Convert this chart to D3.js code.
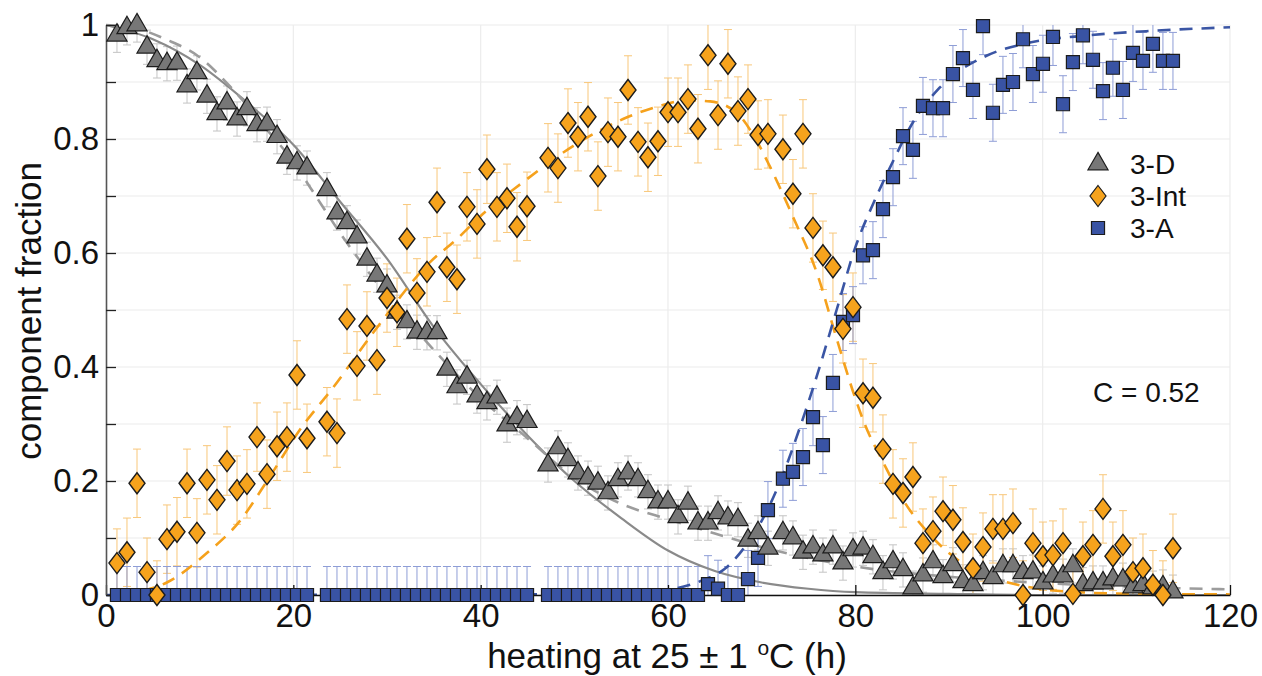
<!DOCTYPE html>
<html>
<head>
<meta charset="utf-8">
<script src="https://cdn.jsdelivr.net/npm/d3@7"></script>
<style>
  body { margin: 0; background: #fff; }
  text { font-family: "Liberation Sans", Arial, sans-serif; fill: #111; }
</style>
</head>
<body>
<div id="chart"></div>
<script>
// sampling times (h), shared by the three components
var hours = [1.17, 2.24, 3.31, 4.38, 5.44, 6.51, 7.58, 8.65, 9.71, 10.78, 11.85, 12.92, 13.99, 15.05, 16.12, 17.19, 18.26, 19.32, 20.39, 21.46,
  23.59, 24.66, 25.73, 26.80, 27.86, 28.93, 30.00, 31.07, 32.13, 33.20, 34.27, 35.34, 36.40, 37.47, 38.54, 39.61, 40.67, 41.74, 42.81, 43.88, 44.95,
  47.19, 48.25, 49.32, 50.39, 51.46, 52.52, 53.59, 54.66, 55.73, 56.80, 57.86, 58.93, 60.00, 61.07, 62.13, 63.20, 64.27, 65.34, 66.40, 67.47, 68.54, 69.61, 70.67,
  72.27, 73.34, 74.41, 75.48, 76.54, 77.61, 78.68, 79.75, 80.82, 81.88, 82.95, 84.02, 85.09, 86.15, 87.22, 88.29, 89.36, 90.42, 91.49, 92.56, 93.63, 94.69,
  95.76, 96.83, 97.90, 98.96, 100.03, 101.10, 102.17, 103.23, 104.30, 105.37, 106.44, 107.50, 108.57, 109.64, 110.71, 111.77, 112.84, 113.91];

var fracD = [0.982, 0.995, 1.0, 0.961, 0.937, 0.932, 0.933, 0.893, 0.916, 0.875, 0.844, 0.863, 0.835, 0.853, 0.825, 0.826, 0.804, 0.768, 0.758, 0.749,
  0.711, 0.670, 0.653, 0.628, 0.589, 0.561, 0.542, 0.496, 0.479, 0.461, 0.460, 0.460, 0.396, 0.365, 0.382, 0.349, 0.337, 0.347, 0.298, 0.311, 0.304,
  0.228, 0.258, 0.237, 0.214, 0.205, 0.196, 0.179, 0.202, 0.214, 0.202, 0.181, 0.163, 0.163, 0.137, 0.161, 0.126, 0.126, 0.144, 0.135, 0.132, 0.096, 0.109, 0.082,
  0.109, 0.100, 0.075, 0.084, 0.070, 0.084, 0.056, 0.079, 0.082, 0.067, 0.039, 0.058, 0.044, 0.012, 0.035, 0.058, 0.032, 0.053, 0.023, 0.018, 0.039, 0.030,
  0.051, 0.051, 0.039, 0.040, 0.021, 0.033, 0.033, 0.051, 0.018, 0.021, 0.021, 0.028, 0.026, 0.014, 0.018, 0.012, 0.014, 0.005];

var fracInt = [0.056, 0.075, 0.196, 0.040, 0.0, 0.098, 0.111, 0.196, 0.109, 0.202, 0.167, 0.235, 0.184, 0.195, 0.277, 0.212, 0.261, 0.277, 0.386, 0.275,
  0.304, 0.284, 0.484, 0.402, 0.472, 0.412, 0.521, 0.496, 0.625, 0.530, 0.567, 0.689, 0.575, 0.554, 0.681, 0.651, 0.747, 0.681, 0.696, 0.646, 0.682,
  0.767, 0.749, 0.828, 0.804, 0.839, 0.735, 0.812, 0.804, 0.886, 0.795, 0.768, 0.796, 0.847, 0.847, 0.870, 0.818, 0.947, 0.842, 0.932, 0.849, 0.870, 0.807, 0.809,
  0.782, 0.704, 0.809, 0.644, 0.596, 0.575, 0.467, 0.505, 0.354, 0.346, 0.256, 0.195, 0.179, 0.207, 0.091, 0.112, 0.147, 0.132, 0.093, 0.047, 0.084, 0.116,
  0.116, 0.126, 0.0, 0.091, 0.068, 0.070, 0.091, 0.002, 0.068, 0.088, 0.151, 0.068, 0.088, 0.040, 0.047, 0.018, 0.0, 0.082];

var fracA = [0, 0, 0, 0, 0, 0, 0, 0, 0, 0, 0, 0, 0, 0, 0, 0, 0, 0, 0, 0,
  0, 0, 0, 0, 0, 0, 0, 0, 0, 0, 0, 0, 0, 0, 0, 0, 0, 0, 0, 0, 0,
  0, 0, 0, 0, 0, 0, 0, 0, 0, 0, 0, 0, 0, 0, 0, 0, 0.019, 0.011, 0, 0, 0.028, 0.065, 0.149,
  0.204, 0.216, 0.242, 0.312, 0.263, 0.372, 0.479, 0.491, 0.596, 0.605, 0.677, 0.733, 0.805, 0.781, 0.858, 0.854, 0.854, 0.914, 0.942, 0.886, 0.998, 0.846,
  0.895, 0.900, 0.975, 0.914, 0.932, 0.979, 0.861, 0.935, 0.982, 0.939, 0.884, 0.925, 0.886, 0.951, 0.937, 0.967, 0.937, 0.937];

// error bar half widths
var errD = 0.03, errInt = 0.06, errA = 0.05;

// model curves [h, fraction]
var fitDSolid = [[0, 1], [5, 0.975], [10, 0.93], [15, 0.865], [20, 0.79], [25, 0.69], [30, 0.59], [35, 0.47], [40, 0.37], [45, 0.28], [50, 0.2],
  [55, 0.135], [60, 0.078], [65, 0.042], [70, 0.022], [75, 0.011], [80, 0.005], [90, 0.002], [100, 0], [120, 0]];
var fitDDash = [[0, 1], [3, 0.995], [6.5, 0.974], [9.7, 0.947], [13.6, 0.886], [17.2, 0.816], [20, 0.76], [22, 0.71], [25, 0.635], [30, 0.525],
  [35, 0.43], [40, 0.345], [45, 0.275], [50, 0.205], [55, 0.16], [60, 0.133], [65, 0.108], [70, 0.084], [75, 0.065], [80, 0.05], [90, 0.032],
  [100, 0.021], [110, 0.014], [120, 0.01]];
var fitInt = [[1.5, 0.002], [3, 0.005], [6.5, 0.022], [10.8, 0.074], [14.3, 0.13], [17.2, 0.2], [20.7, 0.29], [24.2, 0.363], [28.7, 0.464],
  [34.6, 0.584], [37.5, 0.625], [40, 0.665], [44.5, 0.724], [49.9, 0.788], [55.2, 0.835], [59.1, 0.858], [62, 0.868], [64.5, 0.866], [67.4, 0.845],
  [69, 0.81], [70.9, 0.751], [73.3, 0.665], [76, 0.56], [78, 0.45], [80, 0.345], [81, 0.3], [83, 0.232], [85.1, 0.167], [88.3, 0.1], [92.6, 0.044],
  [97.3, 0.018], [102.6, 0.006], [110, 0.002], [120, 0.001]];
var fitA = [[0, 0], [55, 0.002], [61, 0.012], [64, 0.028], [66, 0.045], [68, 0.08], [70, 0.13], [72, 0.2], [74, 0.29], [76, 0.39], [78, 0.5],
  [80, 0.61], [82, 0.69], [84, 0.76], [86, 0.825], [89, 0.89], [94, 0.946], [98, 0.967], [105, 0.982], [112, 0.99], [120, 0.996]];

var xTicks = [0, 20, 40, 60, 80, 100, 120];
var yTicks = [0, 0.1, 0.2, 0.3, 0.4, 0.5, 0.6, 0.7, 0.8, 0.9, 1];

var svgWidth = 1262, svgHeight = 676;
var margin = {top: 25, right: 32, bottom: 81, left: 106};
var width = svgWidth - margin.left - margin.right;
var height = svgHeight - margin.top - margin.bottom;

var svg = d3.select("#chart").append("svg")
  .attr("width", svgWidth)
  .attr("height", svgHeight)
  .style("background", "#fff");
var g = svg.append("g").attr("transform", `translate(${margin.left}, ${margin.top})`);

var x = d3.scaleLinear().domain([0, 120]).range([0, width]);
var y = d3.scaleLinear().domain([0, 1]).range([height, 0]);

// grid
g.append("g").selectAll("line").data(yTicks).enter().append("line")
  .attr("x1", 0).attr("x2", width)
  .attr("y1", d => y(d)).attr("y2", d => y(d))
  .attr("stroke", "#ececec").attr("stroke-width", 1.2);
g.append("g").selectAll("line").data(xTicks.slice(1)).enter().append("line")
  .attr("x1", d => x(d)).attr("x2", d => x(d))
  .attr("y1", 0).attr("y2", height)
  .attr("stroke", "#ececec").attr("stroke-width", 1.2);

var rows = hours.map((h, i) => ({h: h, d: fracD[i], int: fracInt[i], a: fracA[i]}));

function errorBars(key, err, color) {
  var eg = g.append("g").attr("stroke", color).attr("stroke-width", 1).attr("fill", "none");
  rows.forEach(function(r) {
    var v = r[key];
    var lo = Math.max(0, v - err), hi = Math.min(1, v + err);
    var cx = x(r.h);
    eg.append("line").attr("x1", cx).attr("x2", cx).attr("y1", y(lo)).attr("y2", y(hi));
    if (hi < 1) eg.append("line").attr("x1", cx - 4).attr("x2", cx + 4).attr("y1", y(hi)).attr("y2", y(hi));
    if (lo > 0) eg.append("line").attr("x1", cx - 4).attr("x2", cx + 4).attr("y1", y(lo)).attr("y2", y(lo));
  });
}
errorBars("d", errD, "#c4c4c4");
errorBars("int", errInt, "#f8c77a");
errorBars("a", errA, "#8e9dd6");

var line = d3.line().x(d => x(d[0])).y(d => y(d[1])).curve(d3.curveMonotoneX);

g.append("path").datum(fitDSolid).attr("d", line)
  .attr("fill", "none").attr("stroke", "#8a8a8a").attr("stroke-width", 2.2);
g.append("path").datum(fitDDash).attr("d", line)
  .attr("fill", "none").attr("stroke", "#9c9c9c").attr("stroke-width", 2.6).attr("stroke-dasharray", "13,9");
g.append("path").datum(fitInt).attr("d", line)
  .attr("fill", "none").attr("stroke", "#f5a11c").attr("stroke-width", 2.6).attr("stroke-dasharray", "13,9");
g.append("path").datum(fitA).attr("d", line)
  .attr("fill", "none").attr("stroke", "#3a55a4").attr("stroke-width", 2.6).attr("stroke-dasharray", "13,9");

// axes
var xAxis = d3.axisBottom(x).tickValues(xTicks).tickSizeInner(-10).tickSizeOuter(0).tickPadding(9).tickFormat(d3.format("d"));
var yAxis = d3.axisLeft(y).tickValues(yTicks).tickSizeInner(-10).tickSizeOuter(0).tickPadding(7)
  .tickFormat(d => (Math.round(d * 10) % 2 === 0) ? String(+d.toFixed(1)) : "");

var gx = g.append("g").attr("transform", `translate(0, ${height})`).call(xAxis);
gx.select(".domain").attr("stroke", "#111").attr("stroke-width", 1.3);
gx.selectAll("line").attr("stroke", "#111").attr("stroke-width", 1.3);
gx.selectAll("text").attr("font-size", 33).attr("font-family", "Liberation Sans, Arial, sans-serif").attr("fill", "#111");

var gy = g.append("g").call(yAxis);
gy.select(".domain").attr("stroke", "#555").attr("stroke-width", 1.6);
gy.selectAll("line").attr("stroke", "#222").attr("stroke-width", 1.3);
gy.selectAll("text").attr("font-size", 33).attr("font-family", "Liberation Sans, Arial, sans-serif").attr("fill", "#111");

// markers
var triangle = d3.symbol().type(d3.symbolTriangle).size(175);
var square = d3.symbol().type(d3.symbolSquare).size(170);
var diamond = "M0,-10.5L8,0L0,10.5L-8,0Z";

g.append("g").selectAll("path").data(rows).enter().append("path")
  .attr("d", square)
  .attr("transform", d => `translate(${x(d.h)}, ${y(d.a)})`)
  .attr("fill", "#3953a4").attr("stroke", "#1c1c1c").attr("stroke-width", 1.2);
g.append("g").selectAll("path").data(rows).enter().append("path")
  .attr("d", triangle)
  .attr("transform", d => `translate(${x(d.h)}, ${y(d.d)})`)
  .attr("fill", "#777777").attr("stroke", "#1c1c1c").attr("stroke-width", 1.2);
g.append("g").selectAll("path").data(rows).enter().append("path")
  .attr("d", diamond)
  .attr("transform", d => `translate(${x(d.h)}, ${y(d.int)})`)
  .attr("fill", "#f6a31d").attr("stroke", "#1c1c1c").attr("stroke-width", 1.4);

// legend
var legend = [
  {label: "3-D", shape: triangle(), fill: "#777777"},
  {label: "3-Int", shape: diamond, fill: "#f6a31d"},
  {label: "3-A", shape: square(), fill: "#3953a4"}
];
var lg = svg.append("g");
legend.forEach(function(l, i) {
  lg.append("path").attr("d", l.shape)
    .attr("transform", `translate(1098, ${164 + i * 32})`)
    .attr("fill", l.fill).attr("stroke", "#1c1c1c").attr("stroke-width", 1.2);
  lg.append("text").attr("x", 1130).attr("y", 174 + i * 32)
    .attr("font-size", 28).text(l.label);
});

svg.append("text").attr("x", 1093).attr("y", 402).attr("font-size", 28).text("C = 0.52");

// axis titles
var xt = svg.append("text")
  .attr("x", 667).attr("y", 668)
  .attr("text-anchor", "middle").attr("font-size", 35);
xt.append("tspan").text("heating at 25 \u00b1 1 ");
xt.append("tspan").attr("font-size", 21).attr("dy", -13).text("o");
xt.append("tspan").attr("dy", 13).text("C (h)");

svg.append("text")
  .attr("transform", "rotate(-90)")
  .attr("x", -311).attr("y", 41)
  .attr("text-anchor", "middle").attr("font-size", 35)
  .text("component fraction");
</script>
</body>
</html>
